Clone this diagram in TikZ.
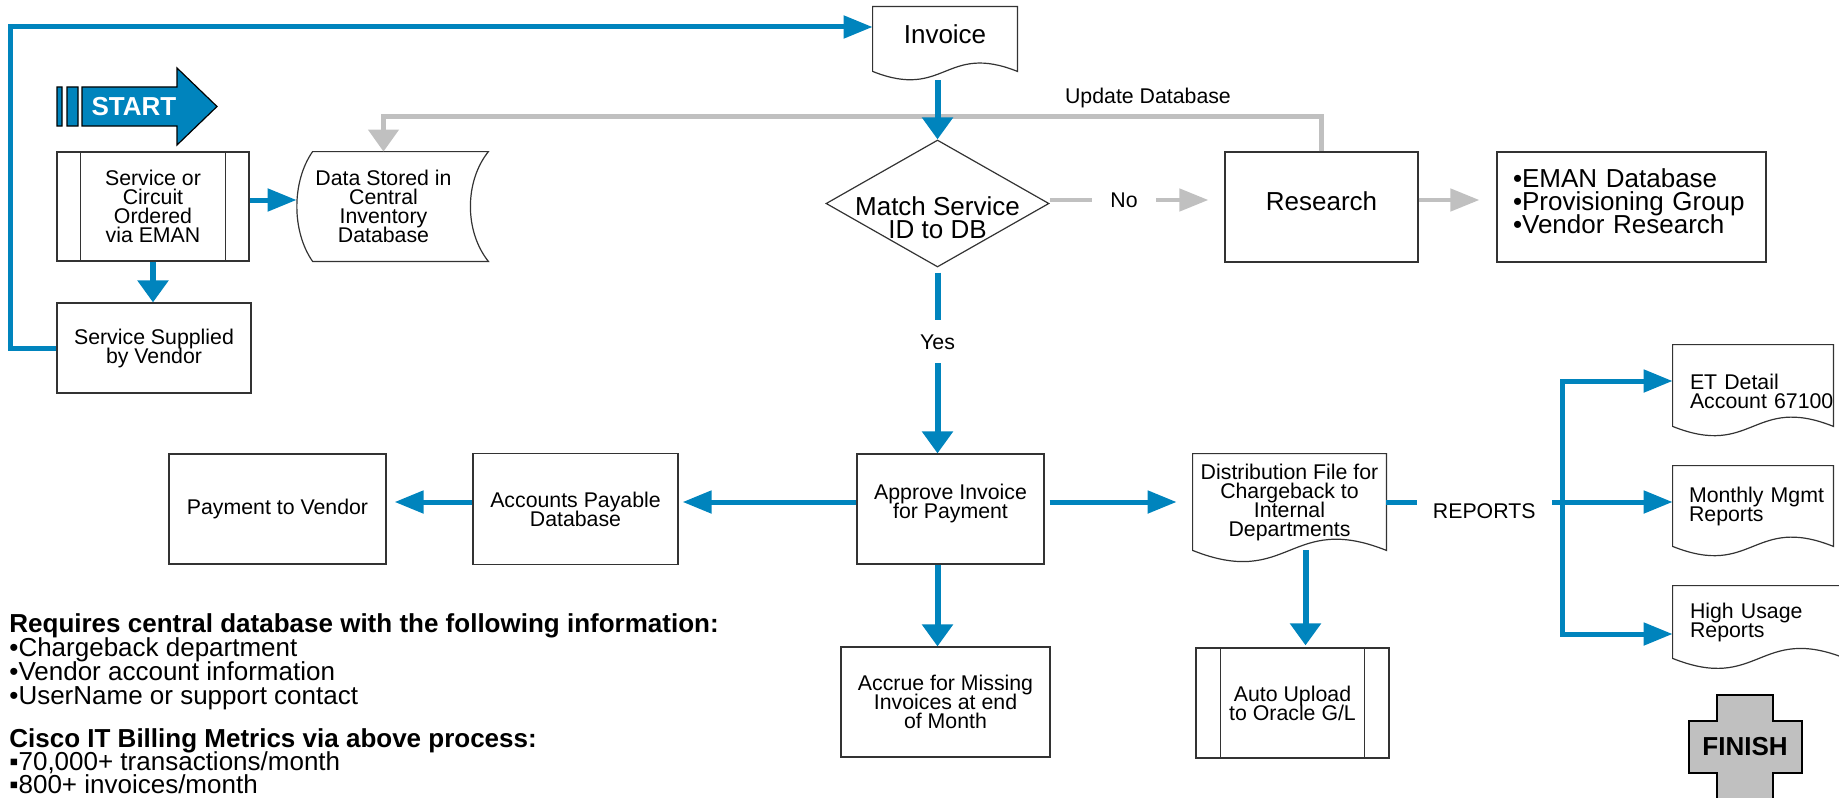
\documentclass[tikz,border=0pt]{standalone}
\usepackage{fontspec}
\setmainfont{Liberation Sans}
\usepackage{xcolor}
\usetikzlibrary{arrows.meta,calc,shapes.geometric}

\definecolor{ciscoblue}{RGB}{0,132,189}
\definecolor{flowgray}{RGB}{192,192,192}
\definecolor{edgegray}{RGB}{51,51,51}

\newcommand{\boxtext}{\fontsize{10.65pt}{9.5pt}\selectfont\lineskiplimit=-20pt}
\newcommand{\bigtext}{\fontsize{13pt}{11.5pt}\selectfont\lineskiplimit=-20pt}
\newcommand{\notetext}{\fontsize{13pt}{12pt}\selectfont\lineskiplimit=-20pt}
\newcommand{\metrictext}{\fontsize{13pt}{11.5pt}\selectfont\lineskiplimit=-20pt}

% box with a wavy bottom edge
\newcommand{\docoutline}[1]{%
  \draw[boxline] (#1.south west) -- (#1.north west) -- (#1.north east) -- (#1.south east)
    .. controls ($(#1.south)!0.4!90:(#1.south east)$) and ($(#1.south)!0.4!-90:(#1.south east)$)
    .. (#1.south west) -- cycle;}
% two inner bars of a predefined process
\newcommand{\subbars}[2]{%
  \draw[boxline] ([xshift=#2]#1.north west) -- ([xshift=#2]#1.south west)
    ([xshift=-#2]#1.north east) -- ([xshift=-#2]#1.south east);}
% stored data outline
\newcommand{\storeoutline}[1]{%
  \draw[boxline] ($(#1.north west)+(16,0)$) -- ($(#1.north east)+(18,0)$)
    .. controls ($(#1.north east)+(-6,30)$) and ($(#1.south east)+(-6,-30)$) .. ($(#1.south east)+(18,0)$)
    -- ($(#1.south west)+(16,0)$)
    .. controls ($(#1.south west)+(-5,-30)$) and ($(#1.north west)+(-5,30)$) .. ($(#1.north west)+(16,0)$)
    -- cycle;}

\begin{document}
\begin{tikzpicture}[x=0.5pt,y=-0.5pt,
    boxline/.style={draw=edgegray,line width=0.6pt},
    boxfont/.style={font=\boxtext},
    bigfont/.style={font=\bigtext},
    startfont/.style={font=\fontsize{13pt}{13pt}\selectfont\bfseries},
    procbox/.style={boxline,boxfont,align=center,inner sep=0pt},
    storebox/.style={boxfont,align=center,inner sep=0pt},
    docbox/.style={boxfont,inner sep=0pt},
    decision/.style={diamond,boxline,inner sep=0pt},
    flowline/.style={draw=ciscoblue,line width=2.5pt},
    flowH/.style={flowline,-{Triangle[length=14.5pt,width=11pt]}},
    flowV/.style={draw=ciscoblue,line width=3pt,-{Triangle[length=11pt,width=15pt]}},
    grayH/.style={draw=flowgray,line width=2.25pt,-{Triangle[length=14.5pt,width=11pt]}},
    grayV/.style={draw=flowgray,line width=2.25pt,-{Triangle[length=11pt,width=15pt]}},
    gaplabel/.style={boxfont,fill=white,inner sep=0pt},
    note/.style={anchor=north west,align=left,inner sep=0pt,font=\notetext}]

\useasboundingbox (0,0) rectangle (1839,797);

% start and finish marks
\filldraw[fill=ciscoblue,draw=black,line width=0.6pt]
  (57,87) rectangle (62,126) (67,87) rectangle (78,126)
  (82,87) -- (177,87) -- (177,68) -- (217,106.5) -- (177,145) -- (177,126) -- (82,126) -- cycle;
\node (start) [startfont,text=white] at (134,107) {START};

\filldraw[fill=flowgray,draw=black,line width=0.8pt]
  (1717,695) -- (1773,695) -- (1773,721) -- (1802,721) -- (1802,773) -- (1773,773)
  -- (1773,830) -- (1717,830) -- (1717,773) -- (1689,773) -- (1689,721) -- (1717,721) -- cycle;
\node (finish) [startfont] at (1745,747) {FINISH};

% boxes
\node (service) [procbox,minimum width=96pt,minimum height=54.5pt] at (153,206.5)
  {Service or\\Circuit\\Ordered\\via EMAN};
\subbars{service}{12pt}
\node (supplied) [procbox,minimum width=97pt,minimum height=45pt] at (154,348)
  {Service Supplied\\by Vendor};
\node (datastore) [storebox,minimum width=86.5pt,minimum height=54.5pt] at (383.5,206.5)
  {Data Stored in\\Central\\Inventory\\Database};
\storeoutline{datastore}

\node (invoice) [docbox,bigfont,text depth=5pt,minimum width=72pt,minimum height=32pt] at (945,39) {Invoice};
\docoutline{invoice}
\node (match) [decision,minimum width=111.5pt,minimum height=63.5pt,
  label={[bigfont,align=center,yshift=-7pt]center:{Match Service\\ID to DB}}] at (937.5,203.5) {};
\node (research) [procbox,bigfont,text depth=6pt,minimum width=96.5pt,minimum height=55pt]
  at (1321.5,207) {Research};
\node (sources) [boxline,bigfont,align=left,text width=118.5pt,text depth=29pt,inner xsep=8pt,
  minimum height=55pt] at (1631.5,207) {•EMAN Database\\•Provisioning Group\\•Vendor Research};

\node (approve) [procbox,text depth=8pt,minimum width=93.5pt,minimum height=55pt] at (950.5,509)
  {Approve Invoice\\for Payment};
\node (accrue) [procbox,minimum width=104.5pt,minimum height=55pt] at (945.5,702)
  {Accrue for Missing\\Invoices at end\\of Month};
\node (accounts) [procbox,minimum width=102.5pt,minimum height=55.5pt] at (575.5,509)
  {Accounts Payable\\Database};
\node (payment) [procbox,minimum width=108.5pt,minimum height=55pt] at (277.5,509)
  {Payment to Vendor};

\node (distrib) [docbox,align=center,minimum width=96.5pt,minimum height=48pt] at (1289.5,502)
  {Distribution File for\\Chargeback to\\Internal\\Departments};
\docoutline{distrib}
\node (upload) [procbox,minimum width=96.5pt,minimum height=55pt] at (1292.5,703)
  {Auto Upload\\to Oracle G/L};
\subbars{upload}{12.5pt}

\node (etdetail) [docbox,align=left,text width=63pt,text height=13.5pt,inner xsep=8.5pt,minimum height=40.5pt]
  at (1753,385.5) {ET Detail\\Account~67100};
\node (mgmt) [docbox,align=left,text width=64pt,inner xsep=8pt,minimum height=40pt]
  at (1753,506) {Monthly~Mgmt\\Reports};
\node (usage) [docbox,align=left,text width=69pt,inner xsep=8.5pt,minimum height=36pt]
  at (1759,622) {High Usage\\Reports};
\foreach \doc in {etdetail,mgmt,usage} {\docoutline{\doc}}

\node (needs) [note] at (9,613)
  {\textbf{Requires central database with the following information:}\\
   •Chargeback department\\•Vendor account information\\•UserName or support contact};
\node (metrics) [note,font=\metrictext] at (9,728)
  {\textbf{Cisco IT Billing Metrics via above process:}\\
   ▪70,000+ transactions/month\\▪800+ invoices/month};

% connectors
\coordinate (toprow) at (0,200);
\coordinate (midrow) at (0,502);
\coordinate (loopcorner) at (10,27);
\coordinate (bus) at (1562,502);

\draw[grayV] (research.north) |- node[pos=0.5925,above,boxfont]{Update Database}
  ([yshift=17.5pt]datastore.north) -- (datastore.north);
\draw[grayH,shorten >=8pt] (match.east |- toprow) --
  node[gaplabel,pos=0.426,inner xsep=9pt,inner ysep=3pt]{No} (research.west |- toprow);
\draw[grayH,shorten >=8.5pt] (research.east |- toprow) -- (sources.west |- toprow);

\draw[flowH] (service.east |- toprow) -- (datastore.west |- toprow);
\draw[flowV] (service.south) -- (service.south |- supplied.north);
\draw[flowH] (supplied.west) -| (loopcorner) -- (invoice.west |- loopcorner);
\draw[flowV,shorten <=4.5pt] (invoice.south -| match.north) -- (match.north);
\draw[flowV,shorten <=2.5pt] (match.south) --
  node[gaplabel,pos=0.4,inner ysep=7pt]{Yes} (match.south |- approve.north);
\draw[flowH,shorten <=2.5pt,shorten >=8pt] (approve.east |- midrow) -- (distrib.west |- midrow);
\draw[flowH,shorten >=2pt] (approve.west |- midrow) -- (accounts.east |- midrow);
\draw[flowH,shorten >=4pt] (accounts.west |- midrow) -- (payment.east |- midrow);
\draw[flowV] (match.south |- approve.south) -- (match.south |- accrue.north);
\draw[flowV,shorten >=1pt] ([xshift=8pt]distrib.south) -- ([xshift=8pt]distrib.south |- upload.north);

\draw[flowline] (distrib.east) --
  node[gaplabel,pos=0.557,inner xsep=8pt,inner ysep=4pt,yshift=-4.5pt]{REPORTS} (bus);
\draw[flowline,line cap=rect] ([yshift=2.25pt]etdetail.west -| bus) -- ([yshift=-6pt]usage.west -| bus);
\foreach \doc/\dy in {etdetail/2.25pt,mgmt/2pt,usage/-6pt}
  {\draw[flowH] ([yshift=\dy]\doc.west -| bus) -- ([yshift=\dy]\doc.west);}
\end{tikzpicture}
\end{document}
